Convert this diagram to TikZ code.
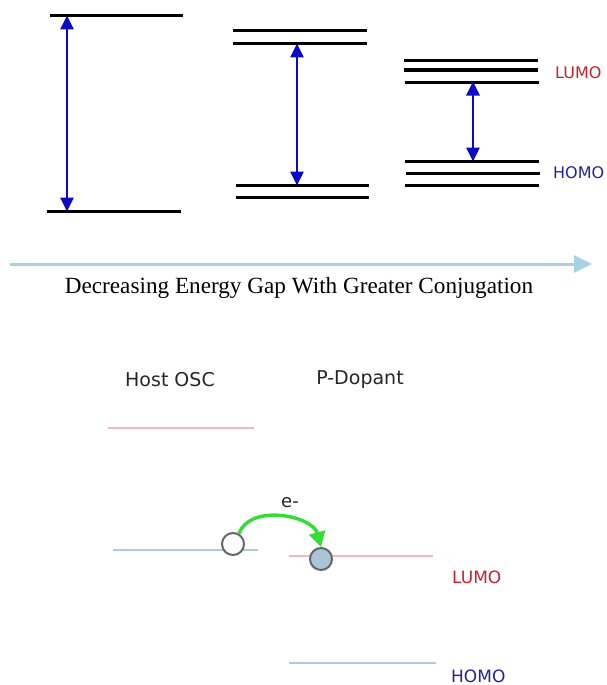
\documentclass[tikz,border=0pt]{standalone}
\usepackage{fontspec}
\setmainfont{Liberation Serif}
\newfontfamily\dvs{DejaVu Sans}
\usetikzlibrary{arrows.meta}
\definecolor{gapblue}{HTML}{0A0AC8}
\definecolor{axisblue}{HTML}{A6D2E2}
\definecolor{lumored}{HTML}{C8202E}
\definecolor{homoblue}{HTML}{2323A0}
\definecolor{pinkline}{HTML}{F2B8C4}
\definecolor{blueline}{HTML}{ABCCD8}
\definecolor{hopgreen}{HTML}{33DD33}
\definecolor{holefill}{HTML}{A9C6D6}
\definecolor{holedraw}{HTML}{666666}
\tikzset{
  level/.style={line width=3pt, black},
  gaparrow/.style={line width=2.8pt, gapblue, {Triangle[length=14pt,width=13pt]}-{Triangle[length=14pt,width=13pt]}, shorten <=-0.5pt, shorten >=-0.5pt},
  axisarrow/.style={line width=3pt, axisblue, -{Triangle[length=18pt,width=17pt]}},
  pinklevel/.style={line width=2.4pt, pinkline},
  bluelevel/.style={line width=2.4pt, blueline},
  lbl/.style={font=\dvs\fontsize{19}{22}\selectfont, text=black!85, inner sep=0pt},
  lumolbl/.style={font=\dvs\fontsize{#1}{20}\selectfont, text=lumored, inner sep=0pt, anchor=west},
  homolbl/.style={font=\dvs\fontsize{#1}{20}\selectfont, text=homoblue, inner sep=0pt, anchor=west},
  emptycarrier/.style={circle, draw=holedraw, line width=2pt, fill=white, minimum size=22pt, inner sep=0pt},
  fullcarrier/.style={circle, draw=holedraw, line width=2pt, fill=holefill, minimum size=22pt, inner sep=0pt},
  hop/.style={line width=3.4pt, hopgreen, -{Triangle[length=15pt,width=16pt]}},
}
\begin{document}
\begin{tikzpicture}[x=1pt,y=-1pt]
\useasboundingbox (0,0) rectangle (606,685);
% group 1
\draw[level] (50,16) -- (183,16);
\draw[level] (47,211) -- (181,211);
\coordinate (g1t) at (67,16);
\coordinate (g1b) at (67,211);
\draw[gaparrow] (g1t) -- (g1b);
% group 2
\draw[level] (233,31) -- (367,31);
\draw[level] (233,44) -- (367,44);
\draw[level] (236,185) -- (369,185);
\draw[level] (236,197) -- (369,197);
\coordinate (g2t) at (297,44);
\coordinate (g2b) at (297,185);
\draw[gaparrow] (g2t) -- (g2b);
% group 3
\draw[level] (404,61) -- (538,61);
\draw[level] (404,70) -- (538,70);
\draw[level] (405,82) -- (539,82);
\draw[level] (405,161) -- (539,161);
\draw[level] (406,173) -- (540,173);
\draw[level] (405,185) -- (539,185);
\coordinate (g3t) at (473,82);
\coordinate (g3b) at (473,161);
\draw[gaparrow] (g3t) -- (g3b);
\node[lumolbl=16] (lumo1) at (555,73) {LUMO};
\node[homolbl=16] (homo1) at (553,173) {HOMO};
% axis
\coordinate (axs) at (10,264);
\coordinate (axe) at (592,264);
\draw[axisarrow] (axs) -- (axe);
\node[font=\fontsize{23.2}{27}\selectfont, inner sep=0pt] (axlbl) at (299,288) {Decreasing Energy Gap With Greater Conjugation};
% bottom
\node[lbl] (host) at (170,380) {Host OSC};
\node[lbl] (dop) at (360,380) {P-Dopant};
\draw[pinklevel] (108,428) -- (254,428);
\draw[bluelevel] (113,550) -- (258,550);
\draw[pinklevel] (289,556) -- (433,556);
\draw[bluelevel] (289,663) -- (436,663);
\node[emptycarrier] (c1) at (233,544) {};
\node[fullcarrier] (c2) at (321,559) {};
\draw[hop] (c1.60) to[out=70,in=105] (c2.north);
\node[lbl, font=\dvs\fontsize{18}{20}\selectfont] (eminus) at (290,503) {e-};
\node[lumolbl=17] (lumo2) at (452,577) {LUMO};
\node[homolbl=17] (homo2) at (451,676) {HOMO};
\end{tikzpicture}
\end{document}
